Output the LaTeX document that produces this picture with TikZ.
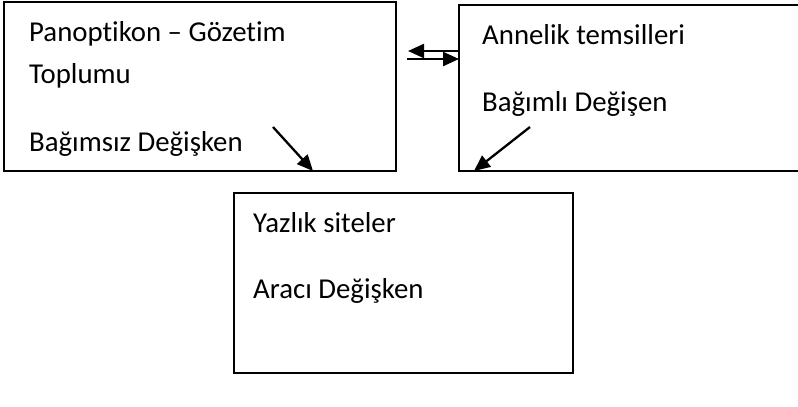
\documentclass[tikz,border=0pt]{standalone}
\usepackage{fontspec}
\setmainfont{Carlito}[Ligatures=NoCommon]
\usetikzlibrary{arrows.meta}
\begin{document}
\begin{tikzpicture}[x=1pt,y=-1pt,
  box/.style={draw,line width=2pt,inner sep=0pt,outer sep=0pt,anchor=north west},
  lbl/.style={anchor=base west,inner sep=0pt,font=\fontsize{28.8}{34}\selectfont},
  arr/.style={line width=2.3pt,-{Triangle[length=16pt,width=14pt]}}]
\useasboundingbox (0,0) rectangle (798,407);
\clip (0,0) rectangle (798,407);
\fill[white] (0,0) rectangle (798,407);
% boxes
\node[box,minimum width=392pt,minimum height=169pt] (ind) at (4,2) {};
\node[box,minimum width=345pt,minimum height=166pt] (dep) at (459,5) {};
\node[box,minimum width=339pt,minimum height=180pt] (med) at (234,193) {};
% texts
\node[lbl] (t1) at (29,41) {Panoptikon – Gözetim};
\node[lbl] (t2) at (29,83) {Toplumu};
\node[lbl] (t3) at (29,151) {Bağımsız Değişken};
\node[lbl] (t4) at (482,44) {Annelik temsilleri};
\node[lbl] (t5) at (482,111) {Bağımlı Değişen};
\node[lbl] (t6) at (253,232) {Yazlık siteler};
\node[lbl] (t7) at (253,298) {Aracı Değişken};
% arrow end points
\coordinate (a1s) at (459,51);
\coordinate (a1e) at (408,51);
\coordinate (a2s) at (407,59);
\coordinate (a2e) at (459,59);
\coordinate (d1s) at (273,127);
\coordinate (d1e) at (313,171);
\coordinate (d2s) at (530,127);
\coordinate (d2e) at (474,171);
\draw[arr] (a1s) -- (a1e);
\draw[arr] (a2s) -- (a2e);
\draw[arr] (d1s) -- (d1e);
\draw[arr] (d2s) -- (d2e);
\end{tikzpicture}
\end{document}
